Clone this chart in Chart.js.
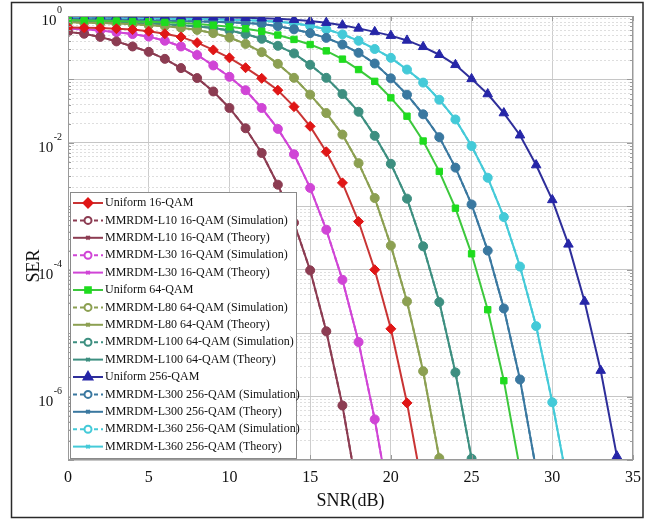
<!DOCTYPE html>
<html>
<head>
<meta charset="utf-8">
<script src="https://cdn.jsdelivr.net/npm/chart.js@4.4.1/dist/chart.umd.min.js"></script>
<style>
  html, body { margin: 0; padding: 0; background: #fff; }
</style>
</head>
<body>
<canvas id="serChart" width="649" height="520"></canvas>
<script>
// SNR axis (dB), one point per dB
const snr = [0, 1, 2, 3, 4, 5, 6, 7, 8, 9, 10, 11, 12, 13, 14, 15, 16, 17,
             18, 19, 20, 21, 22, 23, 24, 25, 26, 27, 28, 29, 30, 31, 32, 33, 34, 35];

// SER
const serUniform16 = [0.661, 0.653, 0.646, 0.631, 0.610, 0.575, 0.525, 0.468, 0.380, 0.292, 0.219, 0.153,
                      0.104, 0.0676, 0.0372, 0.0182, 0.00724, 0.00234, 5.75e-4, 1.0e-4, 1.17e-5, 7.94e-7, 3.16e-8];
const serL10 = [0.562, 0.525, 0.468, 0.398, 0.331, 0.272, 0.211, 0.151, 0.105, 0.0646, 0.0355, 0.0170,
                0.00692, 0.00219, 5.50e-4, 9.77e-5, 1.07e-5, 7.24e-7, 2.51e-8];
const serL30 = [0.631, 0.617, 0.589, 0.556, 0.519, 0.473, 0.407, 0.331, 0.243, 0.166, 0.110, 0.0676,
                0.0355, 0.0166, 0.00661, 0.00195, 4.27e-4, 6.92e-5, 7.24e-6, 4.37e-7, 1.58e-8];
const serUniform64 = [0.861, 0.851, 0.841, 0.832, 0.822, 0.813, 0.794, 0.776, 0.750, 0.716, 0.676, 0.631,
                      0.575, 0.501, 0.427, 0.355, 0.282, 0.209, 0.143, 0.0933, 0.0513, 0.0263, 0.0107,
                      0.00355, 9.33e-4, 1.78e-4, 2.34e-5, 1.78e-6, 7.08e-8];
const serL80 = [0.794, 0.785, 0.776, 0.759, 0.741, 0.716, 0.692, 0.653, 0.603, 0.537, 0.457, 0.363,
                0.269, 0.176, 0.106, 0.0575, 0.0295, 0.0135, 0.00479, 0.00135, 2.40e-4, 3.16e-5,
                2.51e-6, 1.07e-7, 3.16e-9];
const serL100 = [0.822, 0.813, 0.804, 0.794, 0.776, 0.759, 0.741, 0.716, 0.684, 0.646, 0.589, 0.519,
                 0.437, 0.339, 0.257, 0.170, 0.106, 0.0589, 0.0309, 0.0129, 0.00468, 0.00132, 2.34e-4,
                 3.09e-5, 2.40e-6, 1.05e-7, 3.16e-9];
const serUniform256 = [0.991, 0.989, 0.986, 0.984, 0.982, 0.977, 0.975, 0.971, 0.964, 0.957, 0.948, 0.938,
                       0.923, 0.902, 0.875, 0.832, 0.785, 0.716, 0.638, 0.562, 0.490, 0.412, 0.327, 0.245,
                       0.170, 0.102, 0.0589, 0.0295, 0.0132, 0.00447, 0.00126, 2.51e-4, 3.16e-5, 2.57e-6,
                       1.15e-7, 3.16e-9];
const serL300 = [0.902, 0.891, 0.881, 0.871, 0.861, 0.851, 0.841, 0.832, 0.822, 0.813, 0.794, 0.776,
                 0.750, 0.692, 0.617, 0.537, 0.452, 0.355, 0.263, 0.178, 0.104, 0.0575, 0.0282, 0.0123,
                 0.00407, 0.00107, 2.00e-4, 2.45e-5, 1.86e-6, 7.08e-8];
const serL360 = [0.933, 0.929, 0.925, 0.920, 0.916, 0.912, 0.908, 0.902, 0.895, 0.887, 0.875, 0.859,
                 0.841, 0.813, 0.767, 0.700, 0.617, 0.513, 0.407, 0.302, 0.219, 0.143, 0.0891, 0.0479,
                 0.0234, 0.00891, 0.00282, 6.76e-4, 1.12e-4, 1.29e-5, 8.13e-7, 3.55e-8];

const xTicks = [0, 5, 10, 15, 20, 25, 30, 35];
const yDecadeLabels = [0, -2, -4, -6];

const SERIF = '"Liberation Serif", "Times New Roman", serif';

const pts = arr => arr.map((v, i) => ({ x: snr[i], y: v }));

function uniformSet(label, data, color, marker, style, r) {
    return {
        label, data: pts(data), kind: 'uniform',
        borderColor: color, borderWidth: 2,
        pointStyle: style, pointRadius: r,
        pointBackgroundColor: marker, pointBorderColor: marker, pointBorderWidth: 1
    };
}
function simSet(label, data, color) {
    return {
        label, data: pts(data), kind: 'sim',
        borderColor: color, borderWidth: 2, borderDash: [5, 3],
        pointStyle: 'circle', pointRadius: 4.5,
        pointBackgroundColor: color, pointBorderColor: color, pointBorderWidth: 1
    };
}
function theorySet(label, data, color) {
    return {
        label, data: pts(data), kind: 'theory',
        borderColor: color, borderWidth: 2,
        pointStyle: 'crossRot', pointRadius: 3,
        pointBackgroundColor: color, pointBorderColor: color, pointBorderWidth: 1.5
    };
}

const datasets = [
    uniformSet('Uniform 16-QAM', serUniform16, '#c93434', '#e01616', 'rectRot', 5),
    simSet('MMRDM-L10 16-QAM (Simulation)', serL10, '#8c3c52'),
    theorySet('MMRDM-L10 16-QAM (Theory)', serL10, '#8c3c52'),
    simSet('MMRDM-L30 16-QAM (Simulation)', serL30, '#d045d6'),
    theorySet('MMRDM-L30 16-QAM (Theory)', serL30, '#d045d6'),
    uniformSet('Uniform 64-QAM', serUniform64, '#3cc83c', '#1edc1e', 'rect', 4.5),
    simSet('MMRDM-L80 64-QAM (Simulation)', serL80, '#8ca052'),
    theorySet('MMRDM-L80 64-QAM (Theory)', serL80, '#8ca052'),
    simSet('MMRDM-L100 64-QAM (Simulation)', serL100, '#3d8f80'),
    theorySet('MMRDM-L100 64-QAM (Theory)', serL100, '#3d8f80'),
    uniformSet('Uniform 256-QAM', serUniform256, '#2e2e9a', '#2626a8', 'triangle', 5.5),
    simSet('MMRDM-L300 256-QAM (Simulation)', serL300, '#3a78a0'),
    theorySet('MMRDM-L300 256-QAM (Theory)', serL300, '#3a78a0'),
    simSet('MMRDM-L360 256-QAM (Simulation)', serL360, '#44cad8'),
    theorySet('MMRDM-L360 256-QAM (Theory)', serL360, '#44cad8')
];

const isDecade = v => Math.abs(Math.log10(v) - Math.round(Math.log10(v))) < 1e-6;

const decorations = {
    id: 'decorations',
    beforeDraw(chart) {
        const ctx = chart.ctx;
        ctx.save();
        ctx.fillStyle = '#fff';
        ctx.fillRect(0, 0, chart.width, chart.height);
        ctx.restore();
    },
    afterDraw(chart) {
        const ctx = chart.ctx;
        const a = chart.chartArea;
        const xs = chart.scales.x, ys = chart.scales.y;
        ctx.save();

        // plot box and inward tick marks
        ctx.strokeStyle = '#9a9a9a';
        ctx.lineWidth = 1;
        ctx.strokeRect(a.left + 0.5, a.top + 0.5, a.right - a.left - 1, a.bottom - a.top - 1);
        ctx.beginPath();
        ys.ticks.forEach(t => {
            const y = Math.round(ys.getPixelForValue(t.value)) + 0.5;
            const len = isDecade(t.value) ? 6 : 3;
            ctx.moveTo(a.left, y); ctx.lineTo(a.left + len, y);
            ctx.moveTo(a.right, y); ctx.lineTo(a.right - len, y);
        });
        xTicks.forEach(v => {
            const x = Math.round(xs.getPixelForValue(v)) + 0.5;
            ctx.moveTo(x, a.bottom); ctx.lineTo(x, a.bottom - 5);
            ctx.moveTo(x, a.top); ctx.lineTo(x, a.top + 5);
        });
        ctx.stroke();

        // y tick labels 10^k
        ctx.fillStyle = '#111';
        yDecadeLabels.forEach(k => {
            const y = ys.getPixelForValue(Math.pow(10, k));
            const exp = k === 0 ? '0' : '-' + (-k);
            ctx.font = '10px ' + SERIF;
            const ew = ctx.measureText(exp).width;
            ctx.textAlign = 'left';
            ctx.textBaseline = 'alphabetic';
            ctx.fillText(exp, 62 - ew, y - 3);
            ctx.font = '15px ' + SERIF;
            ctx.textAlign = 'right';
            ctx.fillText('10', 62 - ew - 0.5, y + 9);
        });

        // axis titles
        ctx.font = '18px ' + SERIF;
        ctx.textAlign = 'center';
        ctx.fillText('SNR(dB)', (a.left + a.right) / 2, 506);
        ctx.save();
        ctx.translate(39, 266);
        ctx.rotate(-Math.PI / 2);
        ctx.fillText('SER', 0, 0);
        ctx.restore();

        // legend
        const lx = 70, ly = 192, lw = 226, lh = 266, row = 17.4;
        ctx.fillStyle = '#fff';
        ctx.fillRect(lx, ly, lw, lh);
        ctx.strokeStyle = '#8a8a8a';
        ctx.lineWidth = 1;
        ctx.strokeRect(lx + 0.5, ly + 0.5, lw, lh);
        chart.data.datasets.forEach((ds, i) => {
            const y = ly + 11 + i * row;
            ctx.strokeStyle = ds.borderColor;
            ctx.lineWidth = 2;
            ctx.setLineDash(ds.kind === 'sim' ? [4, 3] : []);
            ctx.beginPath();
            ctx.moveTo(73, y); ctx.lineTo(103, y);
            ctx.stroke();
            ctx.setLineDash([]);
            if (ds.kind === 'sim') {
                ctx.fillStyle = '#fff';
                ctx.strokeStyle = ds.borderColor;
                Chart.helpers.drawPoint(ctx, { pointStyle: 'circle', radius: 3.5, borderWidth: 2 }, 88, y);
            } else if (ds.kind === 'theory') {
                ctx.strokeStyle = ds.borderColor;
                Chart.helpers.drawPoint(ctx, { pointStyle: 'crossRot', radius: 2.5, borderWidth: 1.5 }, 88, y);
            } else {
                ctx.fillStyle = ds.pointBackgroundColor;
                ctx.strokeStyle = ds.pointBorderColor;
                Chart.helpers.drawPoint(ctx, { pointStyle: ds.pointStyle, radius: ds.pointRadius - 0.5, borderWidth: 1 }, 88, y);
            }
            ctx.fillStyle = '#111';
            ctx.font = '12px ' + SERIF;
            ctx.textAlign = 'left';
            ctx.textBaseline = 'middle';
            ctx.fillText(ds.label, 105, y);
        });

        // outer frame
        ctx.strokeStyle = '#2a2a2a';
        ctx.lineWidth = 1.5;
        ctx.strokeRect(11.5, 2.5, 631.5, 515);
        ctx.restore();
    }
};

new Chart(document.getElementById('serChart').getContext('2d'), {
    type: 'line',
    data: { datasets },
    options: {
        responsive: false,
        animation: false,
        layout: { padding: { left: 0, right: 12, top: 16, bottom: 0 } },
        plugins: { legend: { display: false }, tooltip: { enabled: false } },
        scales: {
            x: {
                type: 'linear', min: 0, max: 35,
                afterBuildTicks: s => { s.ticks = xTicks.map(v => ({ value: v })); },
                afterFit: s => { s.height = 60; },
                ticks: { font: { family: SERIF, size: 16 }, color: '#111', padding: 8, maxRotation: 0 },
                grid: { color: '#cdcdcd', drawTicks: false },
                border: { display: false }
            },
            y: {
                type: 'logarithmic', min: 1e-7, max: 1,
                afterBuildTicks: s => {
                    const t = [];
                    for (let k = -7; k < 0; k++) {
                        for (let m = 1; m <= 9; m++) t.push({ value: m * Math.pow(10, k) });
                    }
                    t.push({ value: 1 });
                    s.ticks = t;
                },
                afterFit: s => { s.width = 68; },
                ticks: { display: false, autoSkip: false },
                grid: {
                    drawTicks: false,
                    color: c => isDecade(c.tick.value) ? '#c6c6c6' : '#dedede'
                },
                border: { display: false, dash: c => (c.tick && isDecade(c.tick.value)) ? [] : [2, 2] }
            }
        }
    },
    plugins: [decorations]
});
</script>
</body>
</html>
